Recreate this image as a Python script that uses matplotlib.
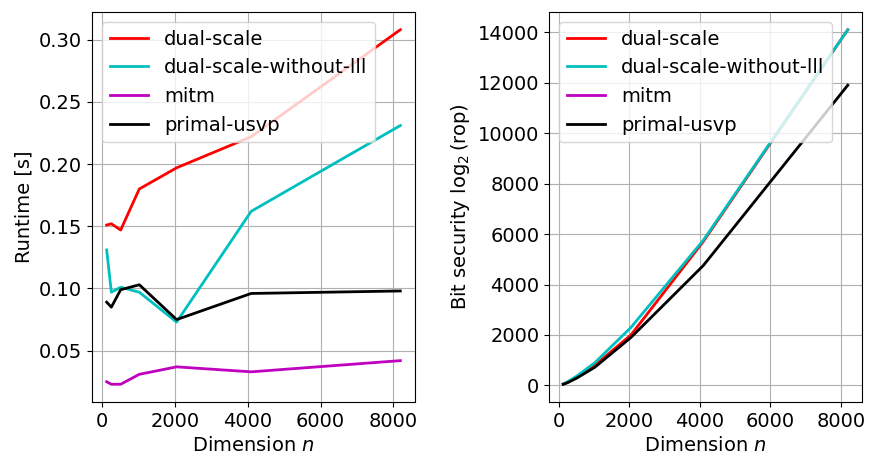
import numpy as np
import matplotlib.pyplot as plt

n = [128, 256, 512, 1024, 2048, 4096, 8192]

runtime_dual = [0.151, 0.152, 0.147, 0.180, 0.197, 0.222, 0.308]
runtime_dual_nolll = [0.131, 0.097, 0.101, 0.097, 0.073, 0.162, 0.231]
runtime_mitm = [0.025, 0.023, 0.023, 0.031, 0.037, 0.033, 0.042]
runtime_usvp = [0.089, 0.085, 0.099, 0.103, 0.075, 0.096, 0.098]

rop_dual = [50, 130, 330, 800, 2000, 5700, 14100]
rop_dual_nolll = [60, 150, 370, 900, 2300, 5750, 14100]
rop_mitm = [np.nan] * 7
rop_usvp = [45, 110, 290, 720, 1900, 4750, 11900]

labels = ['dual-scale', 'dual-scale-without-lll', 'mitm', 'primal-usvp']
colors = ['r', 'c', 'm', 'k']

plt.rcParams['font.size'] = 14

fig = plt.figure(figsize=(8.77, 4.61), dpi=100)
ax1 = fig.add_axes([92 / 877, 1 - 402 / 461, 323 / 877, 390 / 461])
ax2 = fig.add_axes([549 / 877, 1 - 402 / 461, 313 / 877, 390 / 461])

for y, lab, c in zip([runtime_dual, runtime_dual_nolll, runtime_mitm, runtime_usvp], labels, colors):
    ax1.plot(n, y, color=c, label=lab, linewidth=2)
ax1.set_xlabel('Dimension $n$')
ax1.set_ylabel('Runtime [s]')
ax1.grid(True)
ax1.legend(loc='upper left')

for y, lab, c in zip([rop_dual, rop_dual_nolll, rop_mitm, rop_usvp], labels, colors):
    ax2.plot(n, y, color=c, label=lab, linewidth=2)
ax2.set_xlabel('Dimension $n$')
ax2.set_ylabel('Bit security $\\log_2(\\mathrm{rop})$')
ax2.grid(True)
ax2.legend(loc='upper left')

fig.savefig('out.png', dpi=100)
